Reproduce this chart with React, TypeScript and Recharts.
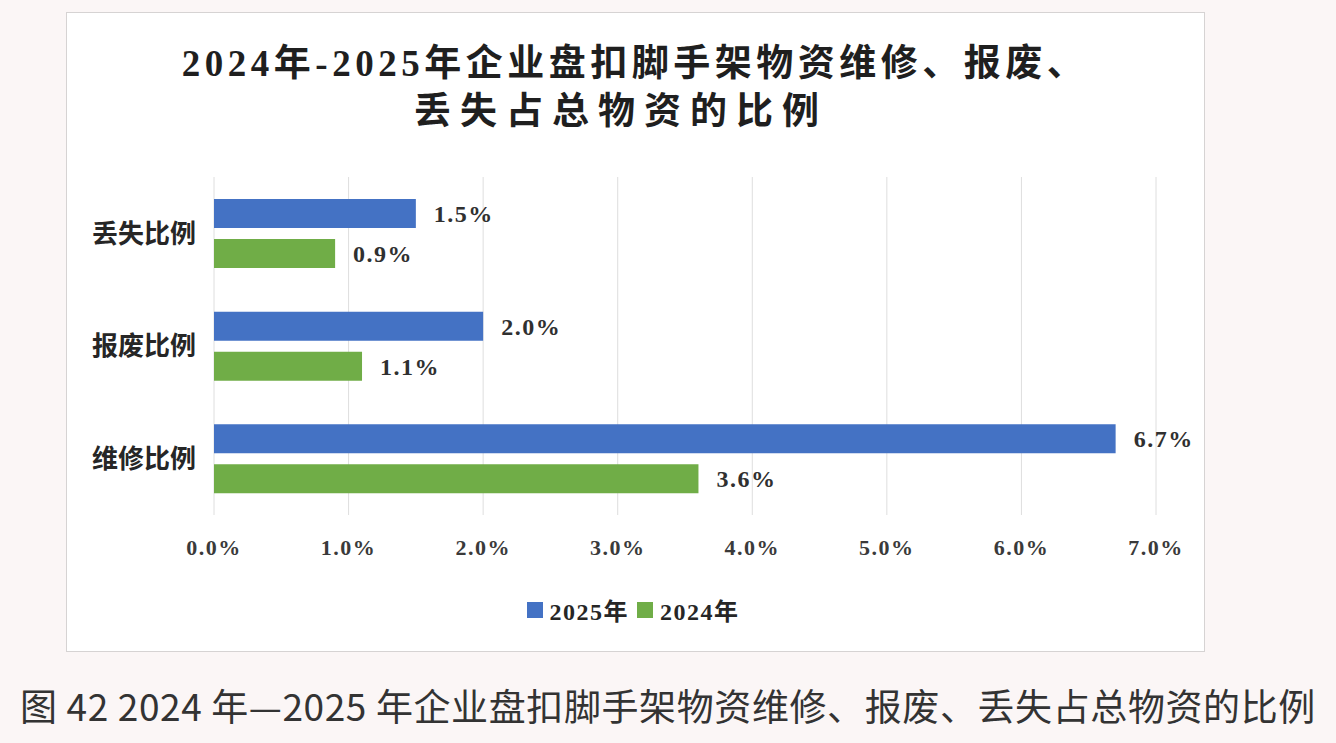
import { BarChart, Bar, XAxis, YAxis, CartesianGrid, LabelList } from 'recharts'

const categories = ['丢失比例', '报废比例', '维修比例']
const values2025 = [1.5, 2.0, 6.7]
const values2024 = [0.9, 1.1, 3.6]
const xTicks = [0, 1, 2, 3, 4, 5, 6, 7]
const seriesNames = ['2025年', '2024年']
const seriesColors = ['#4472C4', '#70AD47']

const SERIF = "'Liberation Serif', 'Noto Sans CJK SC', serif"
const SANS = "'Noto Sans CJK SC', 'Noto Sans', sans-serif"

const pct = (v: number) => `${Number(v).toFixed(1)}%`

const labelStyle = { fontFamily: SERIF, fontWeight: 700, fontSize: 24, fill: '#303030', letterSpacing: 1.5 }

export default function App() {
  const data = categories.map((name, i) => ({
    name,
    y2025: values2025[i],
    y2024: values2024[i],
  }))

  return (
    <div
      style={{
        position: 'absolute',
        left: 0,
        top: 0,
        width: 1336,
        height: 743,
        background: '#fbf6f6',
        overflow: 'hidden',
      }}
    >
      <div
        style={{
          position: 'absolute',
          left: 66,
          top: 12,
          width: 1139,
          height: 640,
          background: '#ffffff',
          border: '1px solid #d6d3d3',
          boxSizing: 'border-box',
        }}
      >
        <div
          style={{
            position: 'absolute',
            left: 0,
            width: 1108,
            top: 27,
            textAlign: 'center',
            fontFamily: SERIF,
            fontWeight: 700,
            fontSize: 37,
            lineHeight: '48px',
            color: '#1f1f1f',
          }}
        >
          <div style={{ letterSpacing: 4.5, paddingLeft: 28 }}>2024年-2025年企业盘扣脚手架物资维修、报废、</div>
          <div style={{ letterSpacing: 9 }}>丢失占总物资的比例</div>
        </div>

        <BarChart
          width={1139}
          height={640}
          data={data}
          layout="vertical"
          margin={{ top: 164, right: 50, bottom: 98, left: 27 }}
          barSize={29}
          barGap={11}
        >
          <CartesianGrid horizontal={false} stroke="#dedede" />
          <XAxis
            type="number"
            domain={[0, 7]}
            ticks={xTicks}
            tickFormatter={pct}
            axisLine={false}
            tickLine={false}
            tickSize={0}
            tickMargin={24}
            height={40}
            interval={0}
            tick={{ fontFamily: SERIF, fontWeight: 700, fontSize: 22, fill: '#3a3a3a', letterSpacing: 1.5 }}
          />
          <YAxis
            type="category"
            dataKey="name"
            width={120}
            axisLine={false}
            tickLine={false}
            tickSize={0}
            tickMargin={18}
            tick={{ fontFamily: SERIF, fontWeight: 700, fontSize: 26, fill: '#262626' }}
          />
          <Bar dataKey="y2025" name={seriesNames[0]} fill={seriesColors[0]} isAnimationActive={false}>
            <LabelList dataKey="y2025" position="right" offset={18} formatter={pct} style={labelStyle} />
          </Bar>
          <Bar dataKey="y2024" name={seriesNames[1]} fill={seriesColors[1]} isAnimationActive={false}>
            <LabelList dataKey="y2024" position="right" offset={18} formatter={pct} style={labelStyle} />
          </Bar>
        </BarChart>

        <div
          style={{
            position: 'absolute',
            left: 0,
            width: 1132,
            top: 579,
            display: 'flex',
            justifyContent: 'center',
            alignItems: 'center',
            gap: 8,
            fontFamily: SERIF,
            fontWeight: 700,
            fontSize: 24,
            color: '#262626',
            letterSpacing: 1.5,
          }}
        >
          {seriesNames.map((n, i) => (
            <div key={n} style={{ display: 'flex', alignItems: 'center', gap: 7 }}>
              <span style={{ display: 'inline-block', width: 16, height: 16, background: seriesColors[i] }} />
              <span>{n}</span>
            </div>
          ))}
        </div>
      </div>

      <div
        style={{
          position: 'absolute',
          left: 0,
          width: 1336,
          top: 680,
          textAlign: 'center',
          fontFamily: SANS,
          fontSize: 37,
          lineHeight: '50px',
          letterSpacing: 0.6,
          color: '#333333',
        }}
      >
        图 42 2024 年—2025 年企业盘扣脚手架物资维修、报废、丢失占总物资的比例
      </div>
    </div>
  )
}
